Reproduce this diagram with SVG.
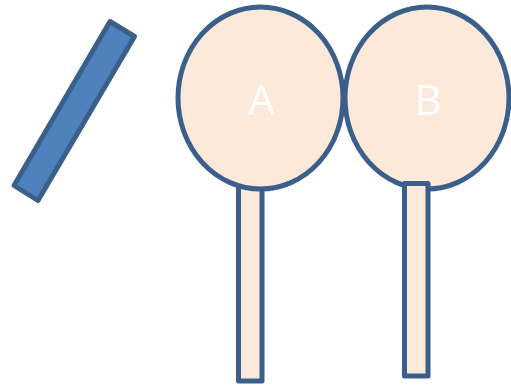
<svg xmlns="http://www.w3.org/2000/svg" width="511" height="385" viewBox="0 0 511 385">
<style>
.s{stroke:#3A5F8B;stroke-width:5;stroke-linejoin:round}
.p{fill:#FDE9D9}
.t{fill:#FFFFFF;font-family:"Open Sans","Liberation Sans",sans-serif;font-size:42px;text-anchor:middle}
</style>
<rect width="511" height="385" fill="#FFFFFF"/>
<g id="bar">
<polygon class="s" fill="#4F81BD" points="110,21.5 134.5,36.5 38,200.5 14,185.5"/>
</g>
<g id="stickA">
<rect class="s p" x="238.5" y="186" width="23.5" height="195"/>
</g>
<g id="nodeA">
<ellipse class="s p" cx="260.5" cy="98" rx="82.5" ry="91"/>
<text class="t" x="261.5" y="115">A</text>
</g>
<g id="nodeB">
<ellipse class="s p" cx="427" cy="98" rx="82" ry="91"/>
<text class="t" x="428" y="115">B</text>
</g>
<g id="stickB">
<rect class="s p" x="404.5" y="183.5" width="23.5" height="192.5"/>
</g>
</svg>
